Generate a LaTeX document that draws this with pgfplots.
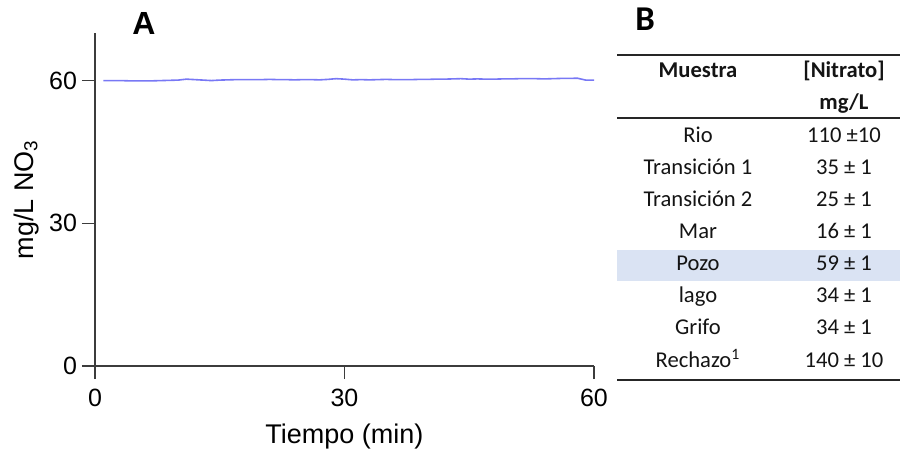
\documentclass[border=0pt]{standalone}
\usepackage{pgfplots}
\pgfplotsset{compat=1.18}
\usepackage{fontspec}
\setmainfont{Liberation Sans}
\newfontfamily\calibri{Carlito}
\definecolor{linecol}{RGB}{120,120,245}
\definecolor{pozo}{RGB}{218,227,243}
\definecolor{axcol}{RGB}{60,60,60}

\begin{document}
\begin{tikzpicture}
\useasboundingbox (0,0) rectangle (450pt,-227pt);
\begin{axis}[
  at={(47.5pt,-183pt)}, anchor=south west,
  scale only axis, width=249.5pt, height=166.5pt,
  xmin=0, xmax=60, ymin=0, ymax=70,
  axis lines=left,
  axis line style={-, line width=0.6pt, color=axcol},
  xtick={0,30,60}, ytick={0,30,60},
  tick align=outside, major tick length=6.5pt,
  tick style={line width=0.6pt, color=axcol},
  /pgf/number format/assume math mode=true,
  tick label style={font=\fontsize{12.5}{14}\selectfont},
  yticklabel style={inner sep=0pt, xshift=-2.3pt},
  xticklabel style={inner sep=0pt, yshift=-5pt},
  xlabel={Tiempo (min)},
  ylabel={mg/L NO\textsubscript{3}},
  xlabel style={at={(axis description cs:0.5,-0.212)}, anchor=center, font=\fontsize{13.5}{15}\selectfont},
  ylabel style={at={(axis description cs:-0.138,0.5)}, anchor=center, font=\fontsize{13.5}{15}\selectfont},
  clip=false,
]
\addplot[linecol, line width=0.8pt, no marks] coordinates {
(1,60.0) (2,60.0) (3,60.0) (4,59.95) (5,59.95) (6,59.95) (7,59.95) (8,60.0) (9,60.05) (10,60.1)
(11,60.3) (12,60.2) (13,60.1) (14,60.0) (15,60.1) (16,60.15) (17,60.2) (18,60.2) (19,60.2) (20,60.2)
(21,60.25) (22,60.2) (23,60.2) (24,60.15) (25,60.2) (26,60.2) (27,60.15) (28,60.25) (29,60.4) (30,60.3)
(31,60.15) (32,60.2) (33,60.15) (34,60.2) (35,60.25) (36,60.2) (37,60.2) (38,60.2) (39,60.25) (40,60.25)
(41,60.3) (42,60.3) (43,60.35) (44,60.4) (45,60.3) (46,60.35) (47,60.3) (48,60.3) (49,60.35) (50,60.35)
(51,60.4) (52,60.4) (53,60.4) (54,60.35) (55,60.4) (56,60.45) (57,60.45) (58,60.5) (59,60.1) (60,60.1)
};
\end{axis}
\begin{scope}[x=0.5pt,y=-0.5pt]
\node[inner sep=0pt, anchor=center, font=\bfseries\fontsize{16}{18}\selectfont] at (144,23.5) {A};
\node[inner sep=0pt, anchor=center, font={\calibri\bfseries\fontsize{17.4}{20}\selectfont}] at (645,19) {B};
\fill[pozo] (617,250) rectangle (900,281);
\draw[line width=1pt, black!85] (617,55) -- (900,55);
\draw[line width=1pt, black!85] (617,118) -- (900,118);
\draw[line width=1.2pt, black!85] (617,380) -- (900,380);
\begin{scope}[every node/.style={anchor=base, inner sep=0pt, text=black!92, font={\calibri\fontsize{11.3}{13}\selectfont}}]
\node[font={\calibri\bfseries\fontsize{11.3}{13}\selectfont}] at (698,78) {Muestra};
\node[font={\calibri\bfseries\fontsize{11.3}{13}\selectfont}] at (844,78) {[Nitrato]};
\node[font={\calibri\bfseries\fontsize{11.3}{13}\selectfont}] at (844,110) {mg/L};
\node at (698,143) {Rio};           \node at (844,143) {110 ±10};
\node at (698,175) {Transición 1};  \node at (844,175) {35 ± 1};
\node at (698,207) {Transición 2};  \node at (844,207) {25 ± 1};
\node at (698,239) {Mar};           \node at (844,239) {16 ± 1};
\node at (698,271) {Pozo};          \node at (844,271) {59 ± 1};
\node at (698,303) {lago};          \node at (844,303) {34 ± 1};
\node at (698,335) {Grifo};         \node at (844,335) {34 ± 1};
\node at (698,367) {Rechazo\textsuperscript{1}}; \node at (844,367) {140 ± 10};
\end{scope}
\end{scope}
\end{tikzpicture}
\end{document}
